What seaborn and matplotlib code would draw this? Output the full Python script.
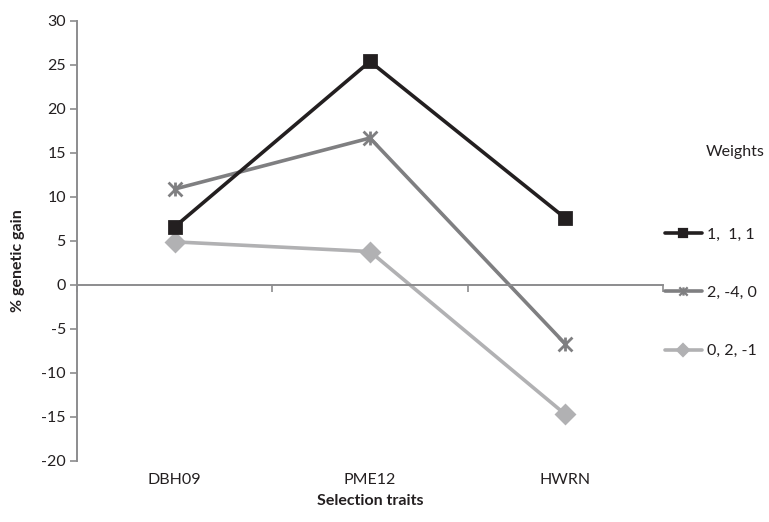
import matplotlib
matplotlib.use("Agg")
import matplotlib.pyplot as plt
import matplotlib.transforms as mtransforms
from matplotlib.path import Path
import seaborn as sns
import pandas as pd

# Data
traits = ["DBH09", "PME12", "HWRN"]
weights = ["1,  1, 1", "2, -4, 0", "0, 2, -1"]
gain_111 = [6.6, 25.4, 7.6]
gain_240 = [10.9, 16.7, -6.7]
gain_021 = [4.9, 3.8, -14.7]

rows = []
for w, vals in zip(weights, [gain_111, gain_240, gain_021]):
    for i, (t, v) in enumerate(zip(traits, vals)):
        rows.append({"pos": i, "trait": t, "weights": w, "gain": v})
df = pd.DataFrame(rows)

sns.set_theme(style="white")
plt.rcParams["font.family"] = ["Lato", "DejaVu Sans"]
plt.rcParams["axes.unicode_minus"] = False

# star marker: an X crossed by a vertical stroke
star = Path([(-1, -1), (1, 1), (-1, 1), (1, -1), (0, -1), (0, 1)],
            [Path.MOVETO, Path.LINETO, Path.MOVETO, Path.LINETO,
             Path.MOVETO, Path.LINETO])

axis_col = "#8c8c8e"
text_col = "#231f20"
palette = {weights[0]: "#231f20", weights[1]: "#7f7f81", weights[2]: "#b1b1b3"}
markers = {weights[0]: "s", weights[1]: star, weights[2]: "D"}
msizes = {weights[0]: 9, weights[1]: 10, weights[2]: 9}

fig = plt.figure(figsize=(7.69, 5.22), dpi=100)
ax = fig.add_axes([0.1001, 0.1169, 0.7620, 0.8429])

# draw lightest series first so darker lines sit on top
for w in reversed(weights):
    sub = df[df["weights"] == w]
    sns.lineplot(data=sub, x="pos", y="gain", color=palette[w], marker=markers[w],
                 markersize=msizes[w], markeredgewidth=2.0,
                 markeredgecolor=palette[w], markerfacecolor=palette[w],
                 linewidth=2.6, ax=ax, legend=False)

ax.set_xlim(-0.5, 2.5)
ax.set_ylim(-20, 30)
ax.set_yticks(range(-20, 31, 5))
ax.tick_params(axis="y", which="major", length=5, width=1.2, color=axis_col,
               labelsize=11.5, labelcolor=text_col, pad=3, left=True, direction="out")

for s in ["top", "right"]:
    ax.spines[s].set_visible(False)
ax.spines["left"].set_color(axis_col)
ax.spines["left"].set_linewidth(1.4)
ax.spines["bottom"].set_position(("data", 0))
ax.spines["bottom"].set_color(axis_col)
ax.spines["bottom"].set_linewidth(1.4)

# category boundary ticks on the zero line, labels along the bottom
ax.set_xticks([-0.5, 0.5, 1.5, 2.5])
ax.set_xticklabels([])
ax.tick_params(axis="x", which="major", length=5, width=1.2, color=axis_col,
               bottom=True, direction="out")
trans = mtransforms.blended_transform_factory(ax.transData, ax.transAxes)
for i, t in enumerate(traits):
    ax.text(i, -0.027, t, transform=trans, ha="center", va="top",
            fontsize=11.5, color=text_col)

ax.set_xlabel("")
ax.set_ylabel("")
fig.text(0.5 * (0.1001 + 0.862), 0.040, "Selection traits", ha="center",
         va="center", fontsize=11.5, fontweight="bold", color=text_col)
fig.text(0.023, 0.5, "% genetic gain", rotation=90, ha="center", va="center",
         fontsize=11.5, fontweight="bold", color=text_col)

# legend
handles = [plt.Line2D([], [], color=palette[w], marker=markers[w], linewidth=2.6,
                      markersize=6, markeredgewidth=1.6,
                      markeredgecolor=palette[w])
           for w in weights]
fig.text(735 / 769, 1 - 152 / 522, "Weights", ha="center", va="center",
         fontsize=11.5, color=text_col)
leg = fig.legend(handles, weights, loc="center left",
                 bbox_to_anchor=(665 / 769, 1 - 293 / 522), frameon=False,
                 fontsize=11.5, handlelength=2.3, handletextpad=0.3,
                 labelspacing=2.75, borderpad=0, borderaxespad=0)
for txt in leg.get_texts():
    txt.set_color(text_col)

fig.savefig("out.png", dpi=100, facecolor="white")
